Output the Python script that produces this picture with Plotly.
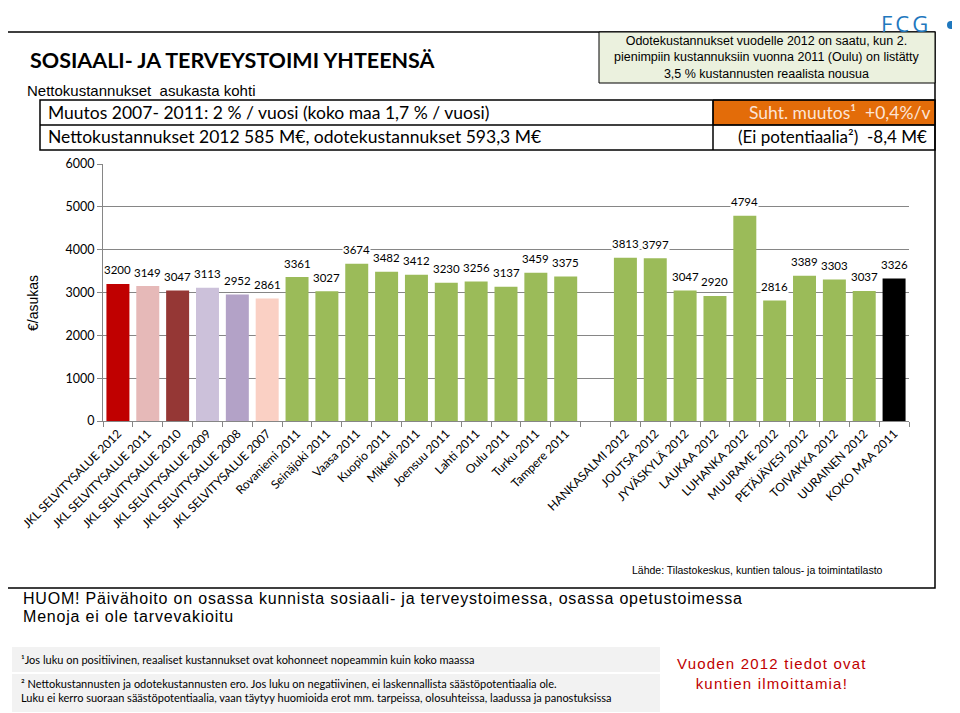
import plotly.graph_objects as go

# ---------------- data ----------------
categories = [
    "JKL SELVITYSALUE 2012", "JKL SELVITYSALUE 2011", "JKL SELVITYSALUE 2010",
    "JKL SELVITYSALUE 2009", "JKL SELVITYSALUE 2008", "JKL SELVITYSALUE 2007",
    "Rovaniemi 2011", "Seinäjoki 2011", "Vaasa 2011", "Kuopio 2011", "Mikkeli 2011",
    "Joensuu 2011", "Lahti 2011", "Oulu 2011", "Turku 2011", "Tampere 2011",
    " ",
    "HANKASALMI 2012", "JOUTSA 2012", "JYVÄSKYLÄ 2012", "LAUKAA 2012", "LUHANKA 2012",
    "MUURAME 2012", "PETÄJÄVESI 2012", "TOIVAKKA 2012", "UURAINEN 2012", "KOKO MAA 2011",
]
values = [
    3200, 3149, 3047, 3113, 2952, 2861,
    3361, 3027, 3674, 3482, 3412, 3230, 3256, 3137, 3459, 3375,
    None,
    3813, 3797, 3047, 2920, 4794, 2816, 3389, 3303, 3037, 3326,
]
bar_colors = [
    "#C00000", "#E6B9B8", "#953735", "#CCC1DA", "#B3A2C7", "#FAD0C4",
    "#9BBB59", "#9BBB59", "#9BBB59", "#9BBB59", "#9BBB59",
    "#9BBB59", "#9BBB59", "#9BBB59", "#9BBB59", "#9BBB59",
    "#9BBB59",
    "#9BBB59", "#9BBB59", "#9BBB59", "#9BBB59", "#9BBB59",
    "#9BBB59", "#9BBB59", "#9BBB59", "#9BBB59", "#000000",
]
y_ticks = [0, 1000, 2000, 3000, 4000, 5000, 6000]

# ---------------- layout helpers ----------------
# the page body has an 8px margin, so the figure is drawn 8px in from the corner
OFF = 8
W, H = 960 - OFF, 713 - OFF
ML, MT = 103 - OFF, 164 - OFF
MR = W - (909 - OFF)
MB = H - (421 - OFF)
PW = W - ML - MR
PH = H - MT - MB


def px(x):
    return (x - OFF - ML) / PW


def py(y):
    return (H - MB - (y - OFF)) / PH


CAL = "Lato, 'Open Sans', sans-serif"
ARIAL = "'Liberation Sans', Arial, sans-serif"

fig = go.Figure()
fig.add_trace(go.Bar(
    x=categories, y=values, marker=dict(color=bar_colors, line=dict(width=0)),
    width=0.77, hoverinfo="x+y", showlegend=False,
))

annotations = []
# data labels with white background (break the gridlines like in Excel)
for c, v in zip(categories, values):
    if v is None:
        continue
    annotations.append(dict(
        x=c, y=v, xref="x", yref="y", text=str(v), showarrow=False,
        yanchor="middle", yshift=14, bgcolor="white", borderpad=0,
        font=dict(family=CAL, size=11.5, color="#000000"),
    ))

shapes = []
# outer frame
shapes.append(dict(type="rect", xref="paper", yref="paper",
                   x0=px(3), x1=px(935), y0=py(588), y1=py(32),
                   line=dict(color="#000000", width=1.5), layer="below"))
# info box (top right)
shapes.append(dict(type="rect", xref="paper", yref="paper",
                   x0=px(599), x1=px(935), y0=py(83), y1=py(32),
                   fillcolor="#EBF1DE", line=dict(color="#000000", width=1)))
# orange cell
shapes.append(dict(type="rect", xref="paper", yref="paper",
                   x0=px(713), x1=px(935), y0=py(125), y1=py(100),
                   fillcolor="#E36C09", line=dict(color="#000000", width=1)))
# table box
shapes.append(dict(type="rect", xref="paper", yref="paper",
                   x0=px(40), x1=px(935), y0=py(150), y1=py(100),
                   line=dict(color="#000000", width=1.5)))
shapes.append(dict(type="line", xref="paper", yref="paper",
                   x0=px(40), x1=px(935), y0=py(125), y1=py(125),
                   line=dict(color="#000000", width=1.5)))
shapes.append(dict(type="line", xref="paper", yref="paper",
                   x0=px(713), x1=px(713), y0=py(150), y1=py(100),
                   line=dict(color="#000000", width=1.5)))
# note boxes
shapes.append(dict(type="rect", xref="paper", yref="paper",
                   x0=px(12), x1=px(660), y0=py(672), y1=py(647),
                   fillcolor="#F2F2F2", line=dict(width=0), layer="below"))
shapes.append(dict(type="rect", xref="paper", yref="paper",
                   x0=px(12), x1=px(660), y0=py(712), y1=py(674),
                   fillcolor="#F2F2F2", line=dict(width=0), layer="below"))
# logo dot
shapes.append(dict(type="circle", xref="paper", yref="paper",
                   x0=px(947), x1=px(955), y0=py(29), y1=py(21),
                   fillcolor="#1F78BE", line=dict(width=0)))


def txt(x, y, text, size, family=CAL, color="#000000", xanchor="left", align="left", **kw):
    d = dict(x=px(x), y=py(y), xref="paper", yref="paper", text=text, showarrow=False,
             xanchor=xanchor, yanchor="middle", align=align,
             font=dict(family=family, size=size, color=color))
    d.update(kw)
    annotations.append(d)


def spaced(s, ls):
    return '<span style="letter-spacing:%spx">%s</span>' % (ls, s)


# header texts
txt(28, 60, "<b>SOSIAALI- JA TERVEYSTOIMI YHTEENSÄ</b>", 21.5)
txt(25, 91, "Nettokustannukset  asukasta kohti", 15, family=ARIAL)
txt(46, 112, "Muutos 2007- 2011: 2 % / vuosi (koko maa 1,7 % / vuosi)", 17.5)
txt(46, 137, "Nettokustannukset 2012 585 M€, odotekustannukset 593,3 M€", 17.5)
txt(932, 112, "Suht. muutos¹  +0,4%/v", 17.5, color="#FCE4D6", xanchor="right")
txt(929, 137, "(Ei potentiaalia²)  -8,4 M€", 17, xanchor="right")
txt(767, 58, "Odotekustannukset vuodelle 2012 on saatu, kun 2.<br>"
             "pienimpiin kustannuksiin vuonna 2011 (Oulu) on listätty<br>"
             "3,5 % kustannusten reaalista nousua", 12.5, family=ARIAL,
    xanchor="center", align="center")
# logo text
txt(880, 22.5, spaced("FCG", 3), 22, color="#1F78BE", family="'Open Sans', sans-serif",
    borderpad=0)

# y axis title
txt(33, 303, "€/asukas", 14, family=ARIAL, xanchor="center", textangle=-90)

# source and notes
txt(630, 570, "Lähde: Tilastokeskus, kuntien talous- ja toimintatilasto", 10.5, family=ARIAL)
txt(21, 598, spaced("HUOM! Päivähoito on osassa kunnista sosiaali- ja terveystoimessa, osassa opetustoimessa", 0.8),
    16, family=ARIAL)
txt(21, 616, spaced("Menoja ei ole tarvevakioitu", 0.8), 16, family=ARIAL)
txt(19, 659, "¹Jos luku on positiivinen, reaaliset kustannukset ovat kohonneet nopeammin kuin koko maassa",
    11)
txt(19, 690, "² Nettokustannusten ja odotekustannusten ero. Jos luku on negatiivinen, ei laskennallista säästöpotentiaalia ole.<br>"
             "Luku ei kerro suoraan säästöpotentiaalia, vaan täytyy huomioida erot mm. tarpeissa, olosuhteissa, laadussa ja panostuksissa",
    11)
txt(772, 673, spaced("Vuoden 2012 tiedot ovat", 1.2) + "<br>" + spaced("kuntien ilmoittamia!", 1.2), 15,
    family=ARIAL, color="#C00000", xanchor="center", align="center")

fig.update_layout(
    width=W, height=H,
    margin=dict(l=ML, r=MR, t=MT, b=MB, autoexpand=False),
    paper_bgcolor="white", plot_bgcolor="white",
    bargap=0.23,
    shapes=shapes, annotations=annotations,
    xaxis=dict(
        type="category", categoryorder="array", categoryarray=categories,
        tickangle=-45, tickfont=dict(family=CAL, size=12, color="#000000"),
        showline=True, linecolor="#868686", linewidth=1,
        ticks="outside", tickson="boundaries", ticklen=5, tickcolor="#868686",
        showgrid=False, fixedrange=True,
    ),
    yaxis=dict(
        range=[0, 6000], tickvals=y_ticks, ticktext=[str(t) for t in y_ticks],
        tickfont=dict(family=CAL, size=12.5, color="#000000"),
        showline=True, linecolor="#868686", linewidth=1,
        ticks="outside", ticklen=5, tickcolor="#868686",
        showgrid=True, gridcolor="#868686", gridwidth=1,
        zeroline=False, fixedrange=True,
    ),
)

fig.write_html("out.html")
